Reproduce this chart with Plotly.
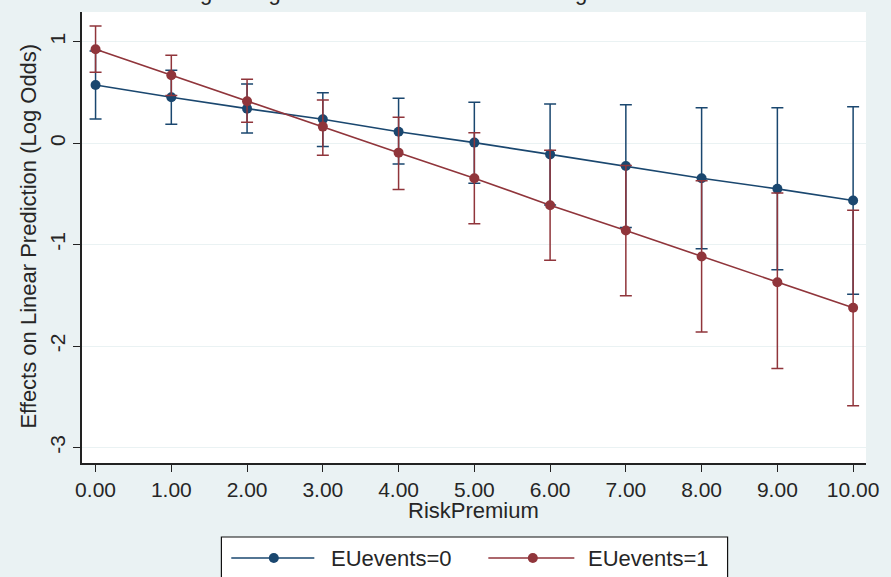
import plotly.graph_objects as go

# Predicted log odds by risk premium, split by EU events, with 95% CIs
risk_premium = [0, 1, 2, 3, 4, 5, 6, 7, 8, 9, 10]
x_tick_labels = ["0.00", "1.00", "2.00", "3.00", "4.00", "5.00",
                 "6.00", "7.00", "8.00", "9.00", "10.00"]
y_tick_values = [-3, -2, -1, 0, 1]
y_tick_labels = ["-3", "-2", "-1", "0", "1"]

eu0_margin = [0.574, 0.453, 0.341, 0.236, 0.114, 0.006, -0.110, -0.224, -0.345, -0.450, -0.565]
eu0_lower = [0.239, 0.187, 0.100, -0.033, -0.205, -0.394, -0.610, -0.830, -1.040, -1.248, -1.488]
eu0_upper = [0.909, 0.720, 0.584, 0.499, 0.443, 0.404, 0.387, 0.380, 0.350, 0.350, 0.360]

eu1_margin = [0.926, 0.670, 0.414, 0.164, -0.093, -0.345, -0.611, -0.861, -1.117, -1.370, -1.623]
eu1_lower = [0.700, 0.470, 0.207, -0.118, -0.457, -0.795, -1.153, -1.504, -1.862, -2.220, -2.588]
eu1_upper = [1.156, 0.867, 0.630, 0.427, 0.256, 0.104, -0.070, -0.220, -0.370, -0.490, -0.660]

series_names = ["EUevents=0", "EUevents=1"]

FONT = "Liberation Sans, Arial, sans-serif"
TEXT = "#262626"
BG = "#eaf2f3"
NAVY = "#1a476f"
MAROON = "#90353b"

W, H = 891, 577
L, R, T, B = 82, 16, 12, 114
PW, PH = W - L - R, H - T - B


def px(x):
    return (x - L) / PW


def py(y):
    return (H - B - y) / PH


fig = go.Figure()

for name, mean, lo, hi, col in [
    (series_names[0], eu0_margin, eu0_lower, eu0_upper, NAVY),
    (series_names[1], eu1_margin, eu1_lower, eu1_upper, MAROON),
]:
    fig.add_trace(go.Scatter(
        x=risk_premium, y=mean, name=name, mode="lines+markers",
        line=dict(color=col, width=1.6),
        marker=dict(color=col, size=10, symbol="circle"),
        error_y=dict(type="data", symmetric=False,
                     array=[h - m for h, m in zip(hi, mean)],
                     arrayminus=[m - l for m, l in zip(mean, lo)],
                     color=col, thickness=1.5, width=6),
        showlegend=False,
    ))

fig.update_layout(
    width=W, height=H,
    margin=dict(l=L, r=R, t=T, b=B),
    paper_bgcolor=BG, plot_bgcolor="white",
    font=dict(family=FONT, size=22, color=TEXT),
    xaxis=dict(
        range=[-0.179, 10.17], tickvals=risk_premium, ticktext=x_tick_labels,
        ticks="outside", ticklen=7, tickwidth=1.3, tickcolor="#222",
        showline=True, linecolor="#222", linewidth=1.5,
        showgrid=False, zeroline=False,
        tickfont=dict(size=21, color=TEXT),
    ),
    yaxis=dict(
        range=[-3.153, 1.294], tickvals=y_tick_values, ticktext=y_tick_labels,
        tickangle=-90, ticks="outside", ticklen=7, tickwidth=1.3, tickcolor="#222",
        showline=True, linecolor="#222", linewidth=1.5,
        showgrid=True, gridcolor=BG, gridwidth=1.2, zeroline=False,
        tickfont=dict(size=21, color=TEXT),
    ),
)

annotations = [
    # title, mostly above the top edge of the page
    dict(text="Average Marginal Effects of EUevents on Log Odds with 95% CIs",
         xref="paper", yref="paper", x=px(466), y=py(7), xanchor="center",
         yanchor="bottom", showarrow=False, font=dict(size=22, color=TEXT)),
    dict(text="RiskPremium", xref="paper", yref="paper", x=px(478), y=py(510),
         xanchor="center", yanchor="middle", showarrow=False,
         font=dict(size=22, color=TEXT)),
    dict(text="Effects on Linear Prediction (Log Odds)", xref="paper", yref="paper",
         x=px(27), y=py(236), textangle=-90, xanchor="center", yanchor="middle",
         showarrow=False, font=dict(size=22, color=TEXT)),
]

# legend box, running off the bottom edge
shapes = [dict(type="rect", xref="paper", yref="paper",
               x0=px(223), x1=px(735), y0=py(600), y1=py(537),
               fillcolor="white", line=dict(color="#111", width=1.2), layer="above")]

legend_rows = [
    (series_names[0], NAVY, 233, 317, 276, 332),
    (series_names[1], MAROON, 493, 580, 538, 592),
]
ly = 558
for name, col, x0, x1, xm, xt in legend_rows:
    shapes.append(dict(type="line", xref="paper", yref="paper",
                       x0=px(x0), x1=px(x1), y0=py(ly), y1=py(ly),
                       line=dict(color=col, width=1.6), layer="above"))
    shapes.append(dict(type="circle", xref="paper", yref="paper",
                       xsizemode="pixel", ysizemode="pixel",
                       xanchor=px(xm), yanchor=py(ly),
                       x0=-5, x1=5, y0=-5, y1=5,
                       fillcolor=col, line=dict(color=col, width=0), layer="above"))
    annotations.append(dict(text=name, xref="paper", yref="paper",
                            x=px(xt), y=py(ly), xanchor="left", yanchor="middle",
                            showarrow=False, font=dict(size=22, color=TEXT)))

fig.update_layout(annotations=annotations, shapes=shapes)

fig.write_html("out.html")
